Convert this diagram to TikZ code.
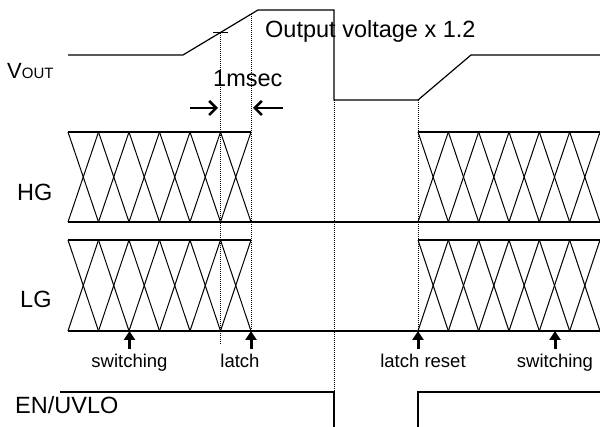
\documentclass[tikz,border=0pt]{standalone}
\usepackage{fontspec}
\setmainfont{Liberation Sans}
\usetikzlibrary{arrows.meta}
\tikzset{
  sig/.style={line width=1.2pt, line join=miter},
  guide/.style={line width=0.7pt, dash pattern=on 1pt off 1pt},
  big/.style={font=\fontsize{23.5}{24}\selectfont, inner sep=0pt, anchor=base west},
  small/.style={font=\fontsize{18.5}{18.5}\selectfont, inner sep=0pt, anchor=base},
  evt/.style={line width=3pt, -{Triangle[length=9pt,width=11pt]}},
  gap/.style={line width=2.6pt, -{Straight Barb[length=7pt,width=14pt]}}
}
\begin{document}
\begin{tikzpicture}[x=1pt,y=-1pt]
\useasboundingbox (0,0) rectangle (600,427);
% VOUT waveform
\draw[sig] (68,55) -- (183,55) -- (258,10) -- (334,10) -- (334,100) -- (418,100) -- (471,55) -- (600,55);
\draw[sig] (213,32.8) -- (228,32.8);
% guide lines
\draw[guide] (220,33) -- (220,345);
\draw[guide] (251,14) -- (251,331);
\draw[guide] (334,100) -- (334,392);
\draw[guide] (418,100) -- (418,331);
% HG blocks
\draw[sig] (68,132) -- (251,132);
\draw[sig] (418,132) -- (600,132);
\draw[sig] (68,222) -- (600,222);
\foreach \i in {0,...,5}{
  \draw[line width=1pt] ({68+30.5*\i},132) -- ({68+30.5*(\i+1)},222);
  \draw[line width=1pt] ({68+30.5*\i},222) -- ({68+30.5*(\i+1)},132);
  \draw[line width=1pt] ({418+30.33*\i},132) -- ({418+30.33*(\i+1)},222);
  \draw[line width=1pt] ({418+30.33*\i},222) -- ({418+30.33*(\i+1)},132);
}
% LG blocks
\draw[sig] (68,240) -- (251,240);
\draw[sig] (418,240) -- (600,240);
\draw[sig] (68,331) -- (600,331);
\foreach \i in {0,...,5}{
  \draw[line width=1pt] ({68+30.5*\i},240) -- ({68+30.5*(\i+1)},331);
  \draw[line width=1pt] ({68+30.5*\i},331) -- ({68+30.5*(\i+1)},240);
  \draw[line width=1pt] ({418+30.33*\i},240) -- ({418+30.33*(\i+1)},331);
  \draw[line width=1pt] ({418+30.33*\i},331) -- ({418+30.33*(\i+1)},240);
}
% EN/UVLO
\draw[sig] (60,392) -- (334,392) -- (334,427);
\draw[sig] (418,427) -- (418,392) -- (600,392);
% 1msec arrows
\coordinate (la) at (190,108); \coordinate (lb) at (218,108);
\coordinate (ra) at (283,108); \coordinate (rb) at (253,108);
\draw[gap] (la) -- (lb);
\draw[gap] (ra) -- (rb);
% event arrows
\foreach \x in {129.5,251,418,555}{
  \draw[evt] (\x,349) -- (\x,331);
}
% labels
\node[big] (vout) at (7,79) {\fontsize{22}{22}\selectfont V\fontsize{15}{15}\selectfont OUT};
\node[big] (ov) at (265,38) {Output voltage x 1.2};
\node[big] (ms) at (213,87) {1msec};
\node[big] (hg) at (17,201) {HG};
\node[big] (lg) at (20,308) {LG};
\node[big] (en) at (15,414) {EN/UVLO};
\node[small] (sw1) at (129.5,368) {switching};
\node[small] (la1) at (240,368) {latch};
\node[small] (lr) at (423,368) {latch reset};
\node[small] (sw2) at (555,368) {switching};
\end{tikzpicture}
\end{document}
